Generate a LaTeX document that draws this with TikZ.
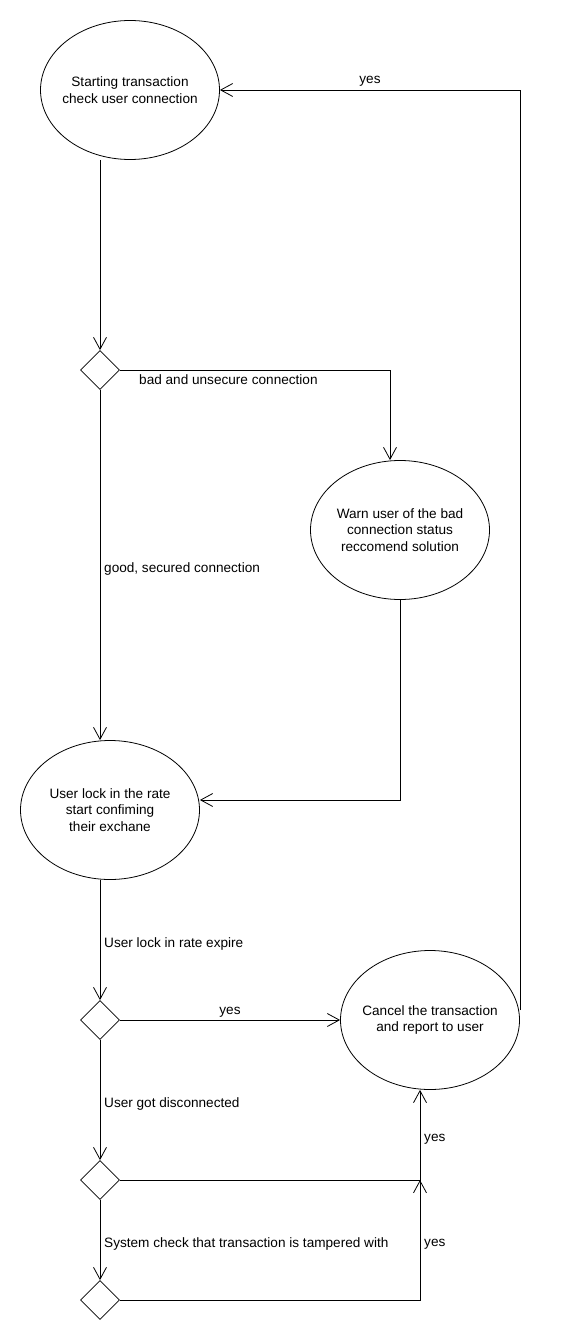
\documentclass[tikz,border=0pt]{standalone}
\usepackage{fontspec}
\setmainfont{Liberation Sans}
\usetikzlibrary{shapes.geometric,arrows.meta}
\begin{document}
\begin{tikzpicture}[x=1pt,y=-1pt,
  every node/.style={font=\fontsize{13.6}{16.5}\selectfont},
  state/.style={ellipse,draw,line width=0.8pt,minimum width=179pt,minimum height=139pt,inner sep=0pt},
  statetext/.style={align=center,inner sep=0pt},
  choice/.style={diamond,draw,line width=0.8pt,minimum width=39pt,minimum height=39pt,inner sep=0pt,aspect=1},
  link/.style={draw,line width=0.8pt,-{Straight Barb[length=12pt,width=13pt,line width=0.8pt]}},
  lbl/.style={anchor=west,inner sep=0pt},
  lblc/.style={inner sep=0pt}]
\useasboundingbox (0,0) rectangle (560,1340);
\fill[white] (0,0) rectangle (560,1340);

\node[state] (e1) at (130,90) {};
\node[statetext] (t1) at (e1.center) {Starting transaction\\check user connection};
\node[state] (e2) at (400,530) {};
\node[statetext] (t2) at (e2.center) {Warn user of the bad\\connection status\\reccomend solution};
\node[state] (e3) at (110,810) {};
\node[statetext] (t3) at (e3.center) {User lock in the rate\\start confiming\\their exchane};
\node[state] (e4) at (430,1020) {};
\node[statetext] (t4) at (e4.center) {Cancel the transaction\\and report to user};

\node[choice] (d1) at (100,370) {};
\node[choice] (d2) at (100,1020) {};
\node[choice] (d3) at (100,1180) {};
\node[choice] (d4) at (100,1300) {};

\coordinate (j) at (420,1180);

\path[link] (d1 |- e1.south) -- (d1.north);
\path[link] (d1.east) -| ([xshift=-10pt]e2.north);
\path[link] (d1.south) -- (d1 |- e3.north);
\path[link] (e2.south) |- ([yshift=10pt]e3.east);
\path[link] (d2 |- e3.south) -- (d2.north);
\path[link] (d2.east) -- (e4.west);
\path[link] ([yshift=10pt]e4.east) |- (e1.east);
\path[link] (d2.south) -- (d3.north);
\path[link] (d3.east) -| ([xshift=-10pt]e4.south);
\path[link] (d3.south) -- (d4.north);
\path[link] (d4.east) -| (j);

\node[lbl] (l1) at (139,380) {bad and unsecure connection};
\node[lbl] (l2) at (104,569) {good, secured connection};
\node[lbl] (l3) at (104,944) {User lock in rate expire};
\node[lblc] (l4) at (230,1012) {yes};
\node[lblc] (l5) at (370,81) {yes};
\node[lbl] (l6) at (104,1104) {User got disconnected};
\node[lbl] (l7) at (424,1139) {yes};
\node[lbl] (l8) at (104,1244) {System check that transaction is tampered with};
\node[lbl] (l9) at (424,1244) {yes};
\end{tikzpicture}
\end{document}
